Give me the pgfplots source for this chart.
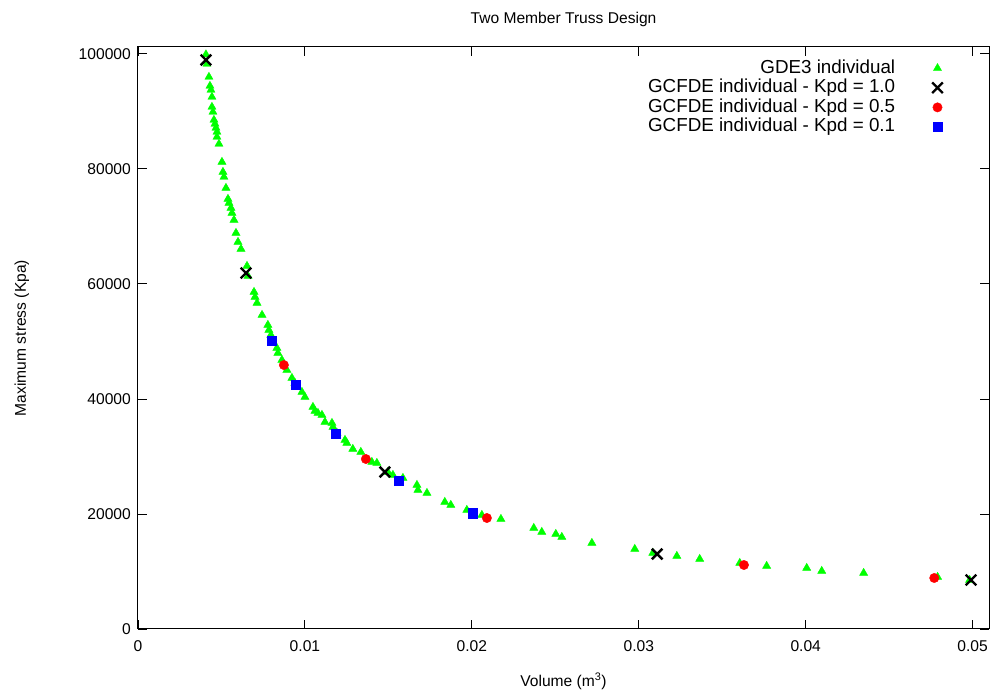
\documentclass[border=0pt]{standalone}
\usepackage{pgfplots}
\pgfplotsset{compat=1.18}
\usepackage{fontspec}
\setmainfont{Liberation Sans}
\definecolor{gnugreen}{RGB}{0,255,0}
\definecolor{gnured}{RGB}{255,0,0}
\definecolor{gnublue}{RGB}{0,0,255}
\begin{document}
\begin{tikzpicture}
\useasboundingbox (-138pt,-62pt) rectangle (859pt,629pt);
\begin{axis}[
  at={(0pt,0pt)}, anchor=south west,
  scale only axis, width=851pt, height=582pt,
  xmin=0, xmax=0.05098, ymin=0, ymax=101200,
  axis line style={line width=1pt, black},
  tick align=inside, major tick length=9pt,
  tick style={line width=0.9pt, black},
  xtick={0,0.01,0.02,0.03,0.04,0.05},
  xticklabels={0,0.01,0.02,0.03,0.04,0.05},
  ytick={0,20000,40000,60000,80000,100000},
  yticklabels={0,20000,40000,60000,80000,100000},
  scaled ticks=false,
  minor tick num=0,
  xticklabel style={font=\fontsize{15.6}{18}\selectfont, inner sep=0pt, anchor=north, yshift=-11pt},
  yticklabel style={font=\fontsize{15.6}{18}\selectfont, inner sep=0pt, anchor=east, xshift=-7pt},
  title={Two Member Truss Design},
  title style={font=\fontsize{15.6}{18}\selectfont, at={(0.5,1)}, anchor=base, yshift=17pt},
  xlabel={Volume (m\textsuperscript{3})},
  xlabel style={font=\fontsize{15.6}{18}\selectfont, at={(0.5,0)}, anchor=base, yshift=-57pt},
  ylabel={Maximum stress (Kpa)},
  ylabel style={font=\fontsize{15.6}{18}\selectfont, at={(0,0.5)}, anchor=base, yshift=112pt},
  legend cell align=right,
  legend plot pos=right,
  legend style={at={(1,1)}, anchor=north east, xshift=-46pt, yshift=-12pt,
    draw=none, fill=none, inner sep=0pt,
    font=\fontsize{18.8}{20}\selectfont,
    nodes={inner sep=0pt, text height=14pt, text depth=4pt},
    column sep=37pt, row sep=1.6pt},
]
\addplot[only marks, mark=triangle*, mark size=4.7pt, color=gnugreen] coordinates {
(0.00407,99900) (0.00413,98254) (0.00425,95993) (0.00431,94428) (0.00437,93732)
(0.00443,92515) (0.00443,90776) (0.00449,89906) (0.00455,88515) (0.00461,87820)
(0.00467,87124) (0.00473,86428) (0.00473,85559) (0.00485,84342) (0.00503,81211)
(0.00509,79472) (0.00515,78603) (0.00527,76690) (0.00539,74777) (0.00545,74081)
(0.00557,73212) (0.00563,72342) (0.00575,71125) (0.00587,68864) (0.00599,67299)
(0.00617,66082) (0.00653,63126) (0.00659,61387) (0.00695,58604) (0.00701,57735)
(0.00713,56691) (0.00743,54605) (0.00778,52866) (0.00784,51996) (0.00796,51127)
(0.00832,48866) (0.00838,47996) (0.00862,46779) (0.00892,45040) (0.00922,43649)
(0.00940,42779) (0.00982,41214) (0.01000,40345) (0.01048,38606) (0.01060,37910)
(0.01078,37562) (0.01102,37215) (0.01120,35997) (0.01162,35823) (0.01168,35128)
(0.01192,34084) (0.01240,32867) (0.01251,32345) (0.01287,31302) (0.01335,30780)
(0.01401,29041) (0.01431,28867) (0.01497,27302) (0.01527,26781) (0.01587,26259)
(0.01671,25042) (0.01677,24172) (0.01731,23650) (0.01838,22085) (0.01874,21564)
(0.01970,20694) (0.02060,19825) (0.02174,19129) (0.02371,17564) (0.02419,16868)
(0.02503,16521) (0.02539,15999) (0.02719,14955) (0.02976,13912) (0.03084,13216)
(0.03228,12695) (0.03365,12173) (0.03605,11477) (0.03766,10956) (0.04006,10608)
(0.04096,10086) (0.04347,9738) (0.04790,9043) (0.04982,8521)
};
\addlegendentry{GDE3 individual}
\addplot[only marks, mark=x, mark size=7.5pt, color=black, mark options={line width=2.4pt}] coordinates {
(0.00407,98950) (0.00647,61900) (0.01479,27300) (0.0311,13040) (0.0499,8520)
};
\addlegendentry{GCFDE individual - Kpd = 1.0}
\addplot[only marks, mark=*, mark size=4.7pt, color=gnured] coordinates {
(0.00874,45900) (0.01365,29560) (0.0209,19300) (0.0363,11130) (0.0477,8870)
};
\addlegendentry{GCFDE individual - Kpd = 0.5}
\addplot[only marks, mark=square*, mark size=4.7pt, color=gnublue] coordinates {
(0.00802,50080) (0.00946,42430) (0.01186,33910) (0.01563,25740) (0.02006,20170)
};
\addlegendentry{GCFDE individual - Kpd = 0.1}
\end{axis}
\end{tikzpicture}
\end{document}
